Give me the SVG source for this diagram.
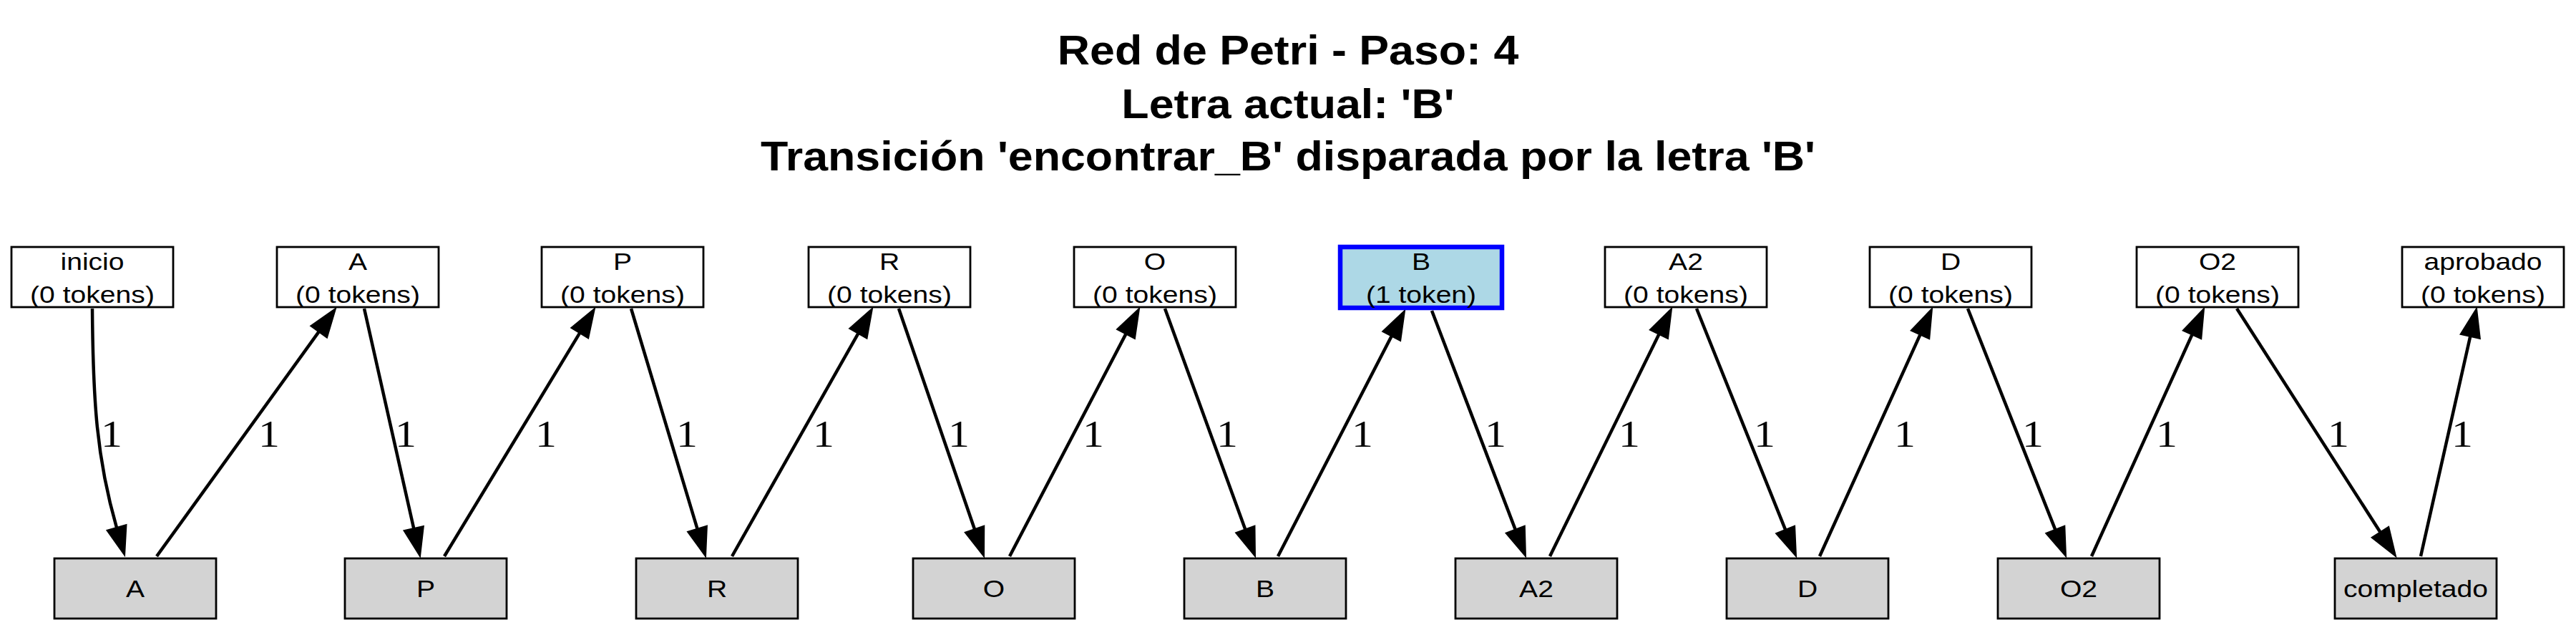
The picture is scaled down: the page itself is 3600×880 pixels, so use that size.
<svg xmlns="http://www.w3.org/2000/svg" width="3600" height="880" viewBox="0 0 3600 880">
<style>
.title{font-family:"Liberation Sans",Arial,sans-serif;font-weight:bold;font-size:57px;fill:#000;text-anchor:middle}
.nt{font-family:"Liberation Sans",Arial,sans-serif;font-size:34px;fill:#000;text-anchor:middle}
.el{font-family:"Liberation Serif","Times New Roman",serif;font-size:53px;fill:#000;text-anchor:middle}
.place{fill:#fff;stroke:#000;stroke-width:2.8}
.active{fill:#add8e6;stroke:#0000ff;stroke-width:6.5}
.trans{fill:#d3d3d3;stroke:#000;stroke-width:2.8}
.edge{fill:none;stroke:#000;stroke-width:4.5;marker-end:url(#arr)}
</style>
<defs>
<marker id="arr" markerUnits="userSpaceOnUse" markerWidth="44" markerHeight="32" viewBox="0 0 44 32" refX="1" refY="16" orient="auto" overflow="visible">
<path d="M1,2 L41,16 L1,30 z" fill="#000" stroke="#000" stroke-width="2"/>
</marker>
</defs>
<rect x="0" y="0" width="3600" height="880" fill="#fff"/>
<g id="title">
<g transform="translate(1800,90) scale(1.1,1)"><text class="title" x="0" y="0">Red de Petri - Paso: 4</text></g>
<g transform="translate(1800,165) scale(1.1,1)"><text class="title" x="0" y="0">Letra actual: 'B'</text></g>
<g transform="translate(1800,238) scale(1.1,1)"><text class="title" x="0" y="0">Transición 'encontrar_B' disparada por la letra 'B'</text></g>
</g>
<g id="edges">
<path class="edge" d="M129,431 C130,560 135,640 163,737"/>
<path class="edge" d="M219,777 L445.6,463.4"/>
<path class="edge" d="M509,431 L578.2,738"/>
<path class="edge" d="M621,777 L810.2,465.2"/>
<path class="edge" d="M882,431 L974.5,738.7"/>
<path class="edge" d="M1023,777 L1199.3,465.8"/>
<path class="edge" d="M1256,431 L1362,739.2"/>
<path class="edge" d="M1411,777 L1573.5,466.4"/>
<path class="edge" d="M1628,431 L1740.3,739.4"/>
<path class="edge" d="M1786,777 L1944.7,469.5"/>
<path class="edge" d="M2001,434 L2117.7,739.6"/>
<path class="edge" d="M2166,777 L2318.4,466.9"/>
<path class="edge" d="M2371,431 L2495.1,739.9"/>
<path class="edge" d="M2543,777 L2683.5,467.4"/>
<path class="edge" d="M2750,431 L2872.3,739.8"/>
<path class="edge" d="M2923,777 L3063.5,467.4"/>
<path class="edge" d="M3126,431 L3326.4,743.3"/>
<path class="edge" d="M3383,777 L3452.2,470"/>
<g id="edge-labels">
<g transform="translate(156,624) scale(1.13,1)"><text class="el">1</text></g>
<g transform="translate(376,624) scale(1.13,1)"><text class="el">1</text></g>
<g transform="translate(567,624) scale(1.13,1)"><text class="el">1</text></g>
<g transform="translate(763,624) scale(1.13,1)"><text class="el">1</text></g>
<g transform="translate(960,624) scale(1.13,1)"><text class="el">1</text></g>
<g transform="translate(1151,624) scale(1.13,1)"><text class="el">1</text></g>
<g transform="translate(1340,624) scale(1.13,1)"><text class="el">1</text></g>
<g transform="translate(1528,624) scale(1.13,1)"><text class="el">1</text></g>
<g transform="translate(1715,624) scale(1.13,1)"><text class="el">1</text></g>
<g transform="translate(1904,624) scale(1.13,1)"><text class="el">1</text></g>
<g transform="translate(2090,624) scale(1.13,1)"><text class="el">1</text></g>
<g transform="translate(2277,624) scale(1.13,1)"><text class="el">1</text></g>
<g transform="translate(2466,624) scale(1.13,1)"><text class="el">1</text></g>
<g transform="translate(2662,624) scale(1.13,1)"><text class="el">1</text></g>
<g transform="translate(2841,624) scale(1.13,1)"><text class="el">1</text></g>
<g transform="translate(3028,624) scale(1.13,1)"><text class="el">1</text></g>
<g transform="translate(3268,624) scale(1.13,1)"><text class="el">1</text></g>
<g transform="translate(3441,624) scale(1.13,1)"><text class="el">1</text></g>
</g>
</g>
<g id="place-inicio"><rect class="place" x="16" y="345" width="226" height="84"/><g transform="translate(129,0) scale(1.15,1)"><text class="nt" x="0" y="377">inicio</text><text class="nt" x="0" y="423">(0 tokens)</text></g></g>
<g id="place-A"><rect class="place" x="387" y="345" width="226" height="84"/><g transform="translate(500,0) scale(1.15,1)"><text class="nt" x="0" y="377">A</text><text class="nt" x="0" y="423">(0 tokens)</text></g></g>
<g id="place-P"><rect class="place" x="757" y="345" width="226" height="84"/><g transform="translate(870,0) scale(1.15,1)"><text class="nt" x="0" y="377">P</text><text class="nt" x="0" y="423">(0 tokens)</text></g></g>
<g id="place-R"><rect class="place" x="1130" y="345" width="226" height="84"/><g transform="translate(1243,0) scale(1.15,1)"><text class="nt" x="0" y="377">R</text><text class="nt" x="0" y="423">(0 tokens)</text></g></g>
<g id="place-O"><rect class="place" x="1501" y="345" width="226" height="84"/><g transform="translate(1614,0) scale(1.15,1)"><text class="nt" x="0" y="377">O</text><text class="nt" x="0" y="423">(0 tokens)</text></g></g>
<g id="place-B"><rect class="active" x="1873" y="345" width="226" height="85"/><g transform="translate(1986,0) scale(1.15,1)"><text class="nt" x="0" y="377">B</text><text class="nt" x="0" y="423">(1 token)</text></g></g>
<g id="place-A2"><rect class="place" x="2243" y="345" width="226" height="84"/><g transform="translate(2356,0) scale(1.15,1)"><text class="nt" x="0" y="377">A2</text><text class="nt" x="0" y="423">(0 tokens)</text></g></g>
<g id="place-D"><rect class="place" x="2613" y="345" width="226" height="84"/><g transform="translate(2726,0) scale(1.15,1)"><text class="nt" x="0" y="377">D</text><text class="nt" x="0" y="423">(0 tokens)</text></g></g>
<g id="place-O2"><rect class="place" x="2986" y="345" width="226" height="84"/><g transform="translate(3099,0) scale(1.15,1)"><text class="nt" x="0" y="377">O2</text><text class="nt" x="0" y="423">(0 tokens)</text></g></g>
<g id="place-aprobado"><rect class="place" x="3357" y="345" width="226" height="84"/><g transform="translate(3470,0) scale(1.15,1)"><text class="nt" x="0" y="377">aprobado</text><text class="nt" x="0" y="423">(0 tokens)</text></g></g>
<g id="trans-A"><rect class="trans" x="76" y="780" width="226" height="84"/><g transform="translate(189,834) scale(1.15,1)"><text class="nt" x="0" y="0">A</text></g></g>
<g id="trans-P"><rect class="trans" x="482" y="780" width="226" height="84"/><g transform="translate(595,834) scale(1.15,1)"><text class="nt" x="0" y="0">P</text></g></g>
<g id="trans-R"><rect class="trans" x="889" y="780" width="226" height="84"/><g transform="translate(1002,834) scale(1.15,1)"><text class="nt" x="0" y="0">R</text></g></g>
<g id="trans-O"><rect class="trans" x="1276" y="780" width="226" height="84"/><g transform="translate(1389,834) scale(1.15,1)"><text class="nt" x="0" y="0">O</text></g></g>
<g id="trans-B"><rect class="trans" x="1655" y="780" width="226" height="84"/><g transform="translate(1768,834) scale(1.15,1)"><text class="nt" x="0" y="0">B</text></g></g>
<g id="trans-A2"><rect class="trans" x="2034" y="780" width="226" height="84"/><g transform="translate(2147,834) scale(1.15,1)"><text class="nt" x="0" y="0">A2</text></g></g>
<g id="trans-D"><rect class="trans" x="2413" y="780" width="226" height="84"/><g transform="translate(2526,834) scale(1.15,1)"><text class="nt" x="0" y="0">D</text></g></g>
<g id="trans-O2"><rect class="trans" x="2792" y="780" width="226" height="84"/><g transform="translate(2905,834) scale(1.15,1)"><text class="nt" x="0" y="0">O2</text></g></g>
<g id="trans-completado"><rect class="trans" x="3263" y="780" width="226" height="84"/><g transform="translate(3376,834) scale(1.15,1)"><text class="nt" x="0" y="0">completado</text></g></g>
</svg>
